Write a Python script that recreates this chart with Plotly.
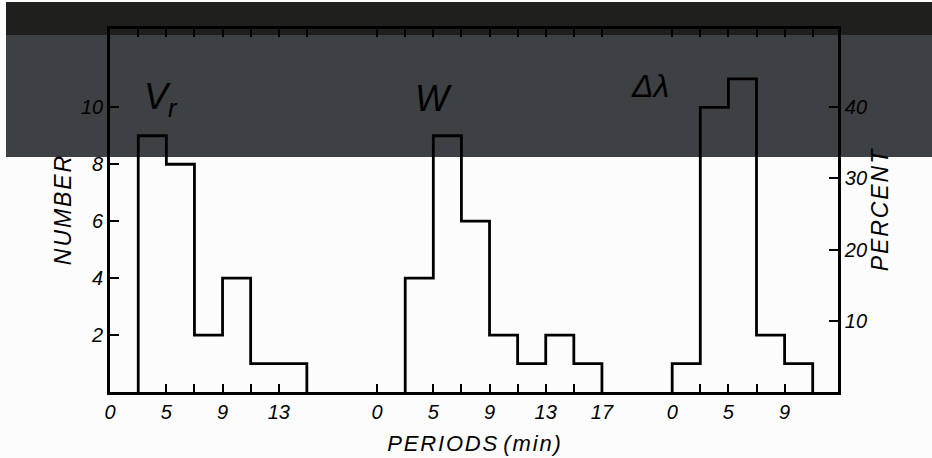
import plotly.graph_objects as go

# ---- data (periods in min, counts per 2-min bin) ----
vr_edges = [3, 5, 7, 9, 11, 13, 15]
vr_counts = [9, 8, 2, 4, 1, 1]
w_edges = [3, 5, 7, 9, 11, 13, 15, 17]
w_counts = [4, 9, 6, 2, 1, 2, 1]
dl_edges = [1, 3, 5, 7, 9, 11]
dl_counts = [1, 10, 11, 2, 1]

panel_names = ["V<sub>r</sub>", "W", "Δλ"]
panel_offsets = [0, 19, 40]          # panel placement along the common period axis
panel_ticks = [[1, 3, 5, 7, 9, 11, 13, 15],
               [1, 3, 5, 7, 9, 11, 13, 15, 17],
               [1, 3, 5, 7, 9, 11]]
panel_ticklabels = [{1: "0", 5: "5", 9: "9", 13: "13"},
                    {1: "0", 5: "5", 9: "9", 13: "13", 17: "17"},
                    {1: "0", 5: "5", 9: "9"}]
count_ticks = [2, 4, 6, 8, 10]
percent_ticks = [10, 20, 30, 40]

N_TOTAL = sum(vr_counts)  # 25 periods per parameter
Y_MAX = 12.75

FONT = "Liberation Sans, DejaVu Sans, sans-serif"
HS = "\u200a"  # hair space for the lettered titles
W, H = 932, 458
ML, MR, MT, MB = 110, 94, 29, 66
PW, PH = W - ML - MR, H - MT - MB


def px_to_paper(px, py):
    return (px - ML) / PW, (H - MB - py) / PH


def spaced(s):
    return HS.join(s)


fig = go.Figure()

panels = [(vr_edges, vr_counts), (w_edges, w_counts), (dl_edges, dl_counts)]
for (edges, counts), off, name in zip(panels, panel_offsets, panel_names):
    xs = [edges[0] + off] + [e + off for e in edges[:-1]] + [edges[-1] + off]
    ys = [0] + list(counts) + [0]
    fig.add_trace(go.Scatter(x=xs, y=ys, mode="lines", line_shape="hv",
                             line=dict(color="black", width=2.8),
                             name=name, showlegend=False, hoverinfo="skip"))

# invisible trace to carry the percent axis
fig.add_trace(go.Scatter(x=[panel_offsets[0] + 3], y=[0], yaxis="y2", mode="markers",
                         marker=dict(opacity=0), showlegend=False, hoverinfo="skip"))

tickvals, ticktext, minorvals = [], [], []
for off, tv, tl in zip(panel_offsets, panel_ticks, panel_ticklabels):
    for t in tv:
        if t in tl:
            tickvals.append(t + off)
            ticktext.append(tl[t])
        else:
            minorvals.append(t + off)

x_lo = 0.99
x_hi = 52.8

tickstyle = dict(ticks="inside", tickwidth=2, tickcolor="black",
                 showline=True, linewidth=2.6, linecolor="black",
                 showgrid=False, zeroline=False, automargin=False,
                 tickfont=dict(family=FONT, size=20, style="italic", color="black"))

fig.update_layout(
    width=W, height=H, autosize=False,
    margin=dict(l=ML, r=MR, t=MT, b=MB, pad=0),
    paper_bgcolor="#fdfcfc", plot_bgcolor="rgba(0,0,0,0)",
    font=dict(family=FONT, color="black", size=20, style="italic"),
    xaxis=dict(range=[x_lo, x_hi], tickmode="array", tickvals=tickvals, ticktext=ticktext,
               ticklen=8, mirror="ticks",
               minor=dict(tickmode="array", tickvals=minorvals, ticks="inside",
                          ticklen=8, tickwidth=2, tickcolor="black", showgrid=False),
               title=dict(text=spaced("PERIODS") + " " + spaced("(min)"), standoff=14,
                          font=dict(family=FONT, size=22, style="italic")),
               **tickstyle),
    yaxis=dict(range=[0, Y_MAX], tickmode="array", tickvals=count_ticks, ticklen=9,
               title=dict(text=spaced("NUMBER"), standoff=3,
                          font=dict(family=FONT, size=23, style="italic")),
               **tickstyle),
    yaxis2=dict(range=[0, Y_MAX * 100 / N_TOTAL], tickmode="array", tickvals=percent_ticks,
                overlaying="y", side="right", ticklen=9,
                title=dict(text=spaced("PERCENT"), standoff=6,
                           font=dict(family=FONT, size=23, style="italic")),
                **tickstyle),
)

# scanned-page dark bands (decoration)
x0, y0 = px_to_paper(6, 2)
x1, y1 = px_to_paper(W, 35)
fig.add_shape(type="rect", xref="paper", yref="paper", x0=x0, x1=x1, y0=y1, y1=y0,
              fillcolor="#1f201e", line=dict(width=0), layer="below")
x0, y0 = px_to_paper(6, 35)
x1, y1 = px_to_paper(W, 157)
fig.add_shape(type="rect", xref="paper", yref="paper", x0=x0, x1=x1, y0=y1, y1=y0,
              fillcolor="#3e4143", line=dict(width=0), layer="below")

label_pos = [(4.6, 10.3, 36), (5.0, 10.3, 36), (-0.6, 10.75, 32)]
for name, off, (lx, ly, fs) in zip(panel_names, panel_offsets, label_pos):
    fig.add_annotation(x=lx + off, y=ly, xref="x", yref="y", text=name,
                       showarrow=False, font=dict(family=FONT, size=fs, style="italic",
                                                  color="black"))

fig.write_html("out.html", config={"displayModeBar": False},
               post_script="document.body.style.margin='0px';")
